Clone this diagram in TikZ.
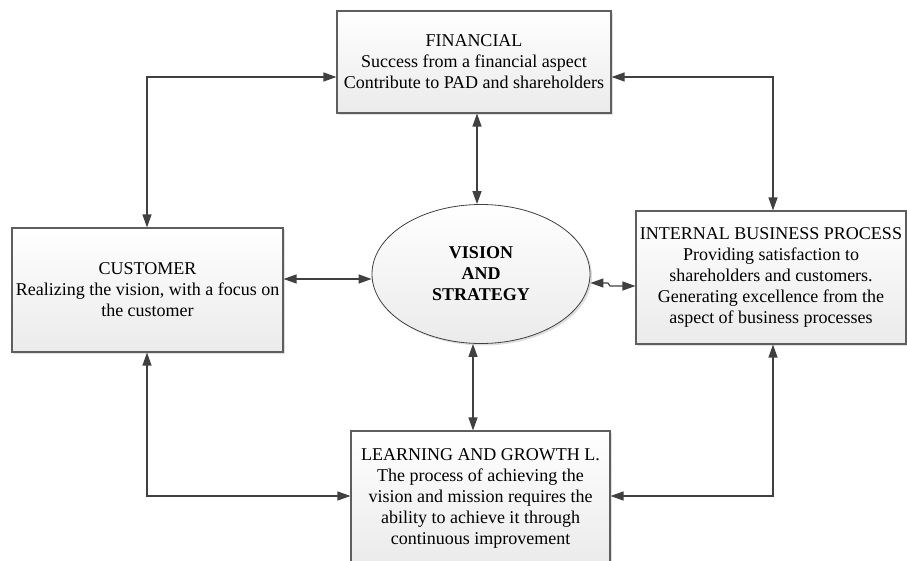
\documentclass[tikz,border=0pt]{standalone}
\usepackage{fontspec}
\setmainfont{Liberation Serif}
\usetikzlibrary{arrows.meta,shadows,shapes.geometric}
\definecolor{boxline}{HTML}{5E5E5E}
\definecolor{conn}{HTML}{404040}
\tikzset{
  box/.style={draw=boxline, line width=1.1pt, top color=white, bottom color=gray!16,
    drop shadow={opacity=0.25, shadow xshift=2pt, shadow yshift=-2pt},
    align=center, inner sep=2pt, font=\fontsize{18}{21}\selectfont},
  oval/.style={ellipse, draw=conn, line width=0.8pt, top color=white, bottom color=gray!16,
    drop shadow={opacity=0.25, shadow xshift=2pt, shadow yshift=-2pt},
    align=center, inner sep=0pt, font=\fontsize{18}{21}\selectfont\bfseries},
  link/.style={draw=conn, line width=1.2pt, {Triangle[length=13pt,width=9pt]}-{Triangle[length=13pt,width=9pt]}},
}
\begin{document}
\begin{tikzpicture}[x=1pt,y=-1pt]
\useasboundingbox (0,0) rectangle (907,561);
\begin{scope}
\clip (0,0) rectangle (907,561);
\node[box, minimum width=274pt, minimum height=102pt] (fin) at (474,62)
  {FINANCIAL\\Success from a financial aspect\\Contribute to PAD and shareholders};
\node[box, minimum width=271pt, minimum height=124pt] (cus) at (147.5,290)
  {CUSTOMER\\Realizing the vision, with a focus on\\the customer};
\node[box, minimum width=270pt, minimum height=133pt] (ibp) at (771,277.5)
  {INTERNAL BUSINESS PROCESS\\Providing satisfaction to\\shareholders and customers.\\Generating excellence from the\\aspect of business processes};
\node[box, minimum width=259pt, minimum height=134pt] (lng) at (480.5,498)
  {LEARNING AND GROWTH L.\\The process of achieving the\\vision and mission requires the\\ability to achieve it through\\continuous improvement};
\node[oval, minimum width=218pt, minimum height=139pt] (vis) at (481,274)
  {VISION\\AND\\STRATEGY};
\end{scope}
% guide coordinates
\coordinate (xa) at (477,0);
\coordinate (xb) at (473,0);
\coordinate (yl) at (0,279);
\coordinate (tl) at (147,77);
\coordinate (tr) at (773,77);
\coordinate (bl) at (147,496);
\coordinate (br) at (773,496);
\coordinate (j1) at (608,283);
\coordinate (j2) at (610,286);
% connectors
\draw[link] (fin.south -| xa) -- (vis.north -| xa);
\draw[link] (vis.south -| xb) -- (lng.north -| xb);
\draw[link] (cus.east |- yl) -- (vis.west |- yl);
\draw[link] (vis.east |- j1) -- (j1) -- (j2) -- (ibp.west |- j2);
\draw[link] (fin.west |- tl) -- (tl) -- (cus.north -| tl);
\draw[link] (fin.east |- tr) -- (tr) -- (ibp.north -| tr);
\draw[link] (cus.south -| bl) -- (bl) -- (lng.west |- bl);
\draw[link] (ibp.south -| br) -- (br) -- (lng.east |- br);
\end{tikzpicture}
\end{document}
